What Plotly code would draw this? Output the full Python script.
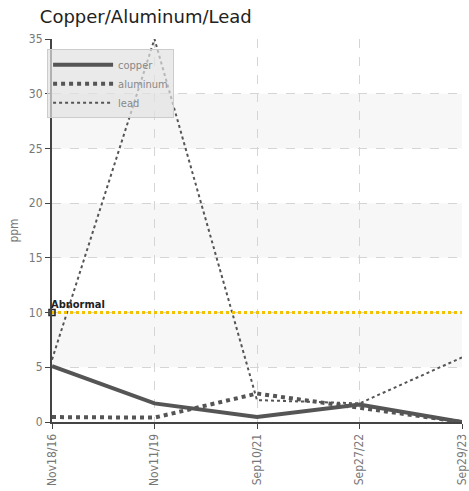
import plotly.graph_objects as go

dates = ["Nov18/16", "Nov11/19", "Sep10/21", "Sep27/22", "Sep29/23"]
copper = [5.1, 1.7, 0.45, 1.6, 0.0]
aluminum = [0.45, 0.4, 2.6, 1.3, 0.0]
lead = [5.7, 35.0, 2.0, 1.7, 5.9]
abnormal_level = 10
y_ticks = [0, 5, 10, 15, 20, 25, 30, 35]
bands = [(5, 10), (15, 20), (25, 30)]

narrow = "DejaVu Sans Condensed, Roboto, sans-serif"

fig = go.Figure()
fig.add_trace(go.Scatter(x=dates, y=copper, name="copper", mode="lines",
                         line=dict(color="#555555", width=4)))
fig.add_trace(go.Scatter(x=dates, y=aluminum, name="aluminum", mode="lines",
                         line=dict(color="#555555", width=4, dash="dot")))
fig.add_trace(go.Scatter(x=dates, y=lead, name="lead", mode="lines",
                         line=dict(color="#555555", width=2, dash="dot")))
fig.add_trace(go.Scatter(x=dates, y=[abnormal_level] * len(dates), mode="lines",
                         line=dict(color="#f2c200", width=3, dash="dot"),
                         showlegend=False, hoverinfo="skip"))
fig.add_trace(go.Scatter(x=[dates[0]], y=[abnormal_level], mode="markers",
                         marker=dict(symbol="square-open", size=6, color="#222222",
                                     line=dict(width=1.5)),
                         showlegend=False, hoverinfo="skip", cliponaxis=False))
fig.add_annotation(x=dates[0], y=abnormal_level, text="<b>Abnormal</b>", showarrow=False,
                   xanchor="left", yanchor="bottom", xshift=-3, yshift=0,
                   font=dict(family=narrow, size=11, color="#222222"))

shapes = []
for y0, y1 in bands:
    shapes.append(dict(type="rect", xref="paper", yref="y", x0=0, x1=1, y0=y0, y1=y1,
                       fillcolor="#f7f7f7", line=dict(width=0), layer="below"))

tickfont = dict(family=narrow, size=12, color="#777777")
fig.update_layout(
    width=469, height=491,
    margin=dict(l=52, r=7, t=39, b=69, autoexpand=False),
    paper_bgcolor="white", plot_bgcolor="white",
    title=dict(text="Copper/Aluminum/Lead", xref="container", x=0.085, xanchor="left",
               yref="container", y=0.978, yanchor="top",
               font=dict(family="DejaVu Sans, sans-serif", size=18, color="#222222")),
    shapes=shapes,
    showlegend=True,
    legend=dict(x=-0.012, y=0.973, xanchor="left", yanchor="top",
                bgcolor="rgba(225,225,225,0.7)", bordercolor="#cccccc", borderwidth=1,
                font=dict(family=narrow, size=11, color="#888888"),
                tracegroupgap=0, itemwidth=60),
    xaxis=dict(type="category", range=[0, 4], automargin=False, showgrid=True, gridcolor="#d5d5d5",
               griddash="dash", gridwidth=1, showline=True, linecolor="#444444", linewidth=2,
               ticks="outside", ticklen=5, tickcolor="#444444", tickangle=-90,
               tickfont=tickfont, zeroline=False),
    yaxis=dict(range=[0, 35], tickvals=y_ticks, automargin=False, showgrid=True, gridcolor="#d5d5d5",
               griddash="dash", gridwidth=1, showline=True, linecolor="#444444", linewidth=2,
               ticks="outside", ticklen=5, tickcolor="#444444", tickfont=tickfont,
               zeroline=False,
               title=dict(text="ppm", font=dict(family=narrow, size=12, color="#777777"),
                          standoff=8)),
)
fig.write_html("out.html", config={"displayModeBar": False},
               post_script="document.body.style.margin='0';")
